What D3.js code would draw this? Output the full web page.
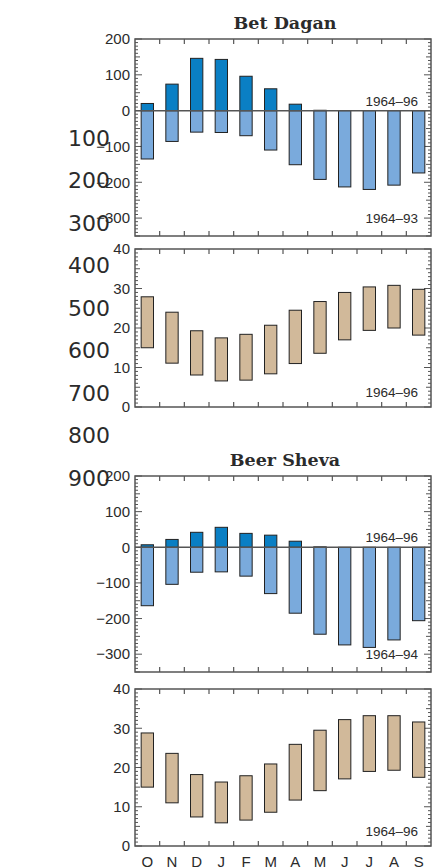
<!DOCTYPE html>
<html>
<head>
<meta charset="utf-8">
<script src="https://cdn.jsdelivr.net/npm/d3@7"></script>
<style>
  body { margin: 0; background: #fff; }
  svg { display: block; }
  text { fill: #2b2b2b; }
</style>
</head>
<body>
<svg id="chart"></svg>
<script>
var width = 432
var height = 867

var months = ["O","N","D","J","F","M","A","M","J","J","A","S"]

// precipitation (mm, up) and evaporation (mm, down)
var betDaganRain = [20, 74, 146, 143, 96, 61, 18, 1, 0, 0, 0, 0]
var betDaganEvap = [-135, -86, -60, -61, -70, -110, -151, -192, -213, -220, -208, -174]
var beerShevaRain = [7, 22, 42, 56, 39, 34, 17, 1, 0, 0, 0, 0]
var beerShevaEvap = [-164, -104, -70, -69, -81, -130, -185, -244, -274, -281, -260, -206]

// temperature ranges (deg C): low / high
var betDaganTmin = [15.0, 11.1, 8.1, 6.6, 6.8, 8.4, 11.0, 13.6, 17.0, 19.4, 20.0, 18.2]
var betDaganTmax = [27.9, 24.0, 19.3, 17.5, 18.4, 20.7, 24.5, 26.7, 29.0, 30.4, 30.8, 29.8]
var beerShevaTmin = [15.0, 11.0, 7.4, 5.9, 6.6, 8.6, 11.7, 14.1, 17.1, 19.0, 19.3, 17.5]
var beerShevaTmax = [28.8, 23.6, 18.2, 16.3, 17.9, 20.9, 25.9, 29.5, 32.2, 33.2, 33.2, 31.6]

var stations = ["Bet Dagan", "Beer Sheva"]
var precipTicks = [200, 100, 0, -100, -200, -300]
var tempTicks = [40, 30, 20, 10, 0]
var periodLabels = [["1964–96", "1964–93", "1964–96"], ["1964–96", "1964–94", "1964–96"]]
var strayTicks = [100, 200, 300, 400, 500, 600, 700, 800, 900]

var svg = d3.select("#chart").attr("width", width).attr("height", height)

var left = 135, right = 431
var x = d3.scaleBand().domain(d3.range(12)).range([left, right]).paddingInner(0.5).paddingOuter(0.25)
var bandStep = (right - left) / 12

// panel boxes
var panels = [
  {kind: "p", top: 39, bottom: 236, st: 0},
  {kind: "t", top: 249, bottom: 407, st: 0},
  {kind: "p", top: 476, bottom: 672, st: 1},
  {kind: "t", top: 689, bottom: 846, st: 1}
]

function drawFrame(p, y, minorStep, majorStep, lo, hi) {
  var g = svg.append("g")
  // minor / major ticks on both sides, inward
  var vals = d3.range(lo, hi + 0.001, minorStep)
  vals.forEach(function(v) {
    var major = Math.abs(v % majorStep) < 1e-6
    var half = Math.abs(v % (majorStep / 2)) < 1e-6
    var len = major ? 7 : (half ? 5 : 3)
    g.append("line").attr("x1", left).attr("x2", left + len)
      .attr("y1", y(v)).attr("y2", y(v)).attr("stroke", "#555").attr("stroke-width", 1)
    g.append("line").attr("x1", right).attr("x2", right - len)
      .attr("y1", y(v)).attr("y2", y(v)).attr("stroke", "#555").attr("stroke-width", 1)
  })
  // month boundary ticks top and bottom
  d3.range(1, 12).forEach(function(i) {
    var xx = left + i * bandStep
    g.append("line").attr("x1", xx).attr("x2", xx).attr("y1", p.top).attr("y2", p.top + 5)
      .attr("stroke", "#555").attr("stroke-width", 1.2)
    g.append("line").attr("x1", xx).attr("x2", xx).attr("y1", p.bottom).attr("y2", p.bottom - 5)
      .attr("stroke", "#555").attr("stroke-width", 1.2)
  })
  g.append("rect").attr("x", left).attr("y", p.top).attr("width", right - left)
    .attr("height", p.bottom - p.top).attr("fill", "none").attr("stroke", "#555").attr("stroke-width", 1.5)
}

function tickLabels(y, vals) {
  svg.append("g").selectAll("text").data(vals).enter().append("text")
    .attr("x", 130).attr("y", function(d) { return y(d) })
    .attr("dy", "0.35em").attr("text-anchor", "end")
    .attr("font-family", "Liberation Sans, Arial, sans-serif").attr("font-size", 15)
    .text(function(d) { return d < 0 ? "\u2212" + Math.abs(d) : d })
}

function note(txt, yy) {
  svg.append("text").attr("x", 418).attr("y", yy).attr("text-anchor", "end")
    .attr("font-family", "Liberation Sans, Arial, sans-serif").attr("font-size", 13.5)
    .text(txt)
}

panels.forEach(function(p) {
  var labels = periodLabels[p.st]
  if (p.kind === "p") {
    var rain = p.st === 0 ? betDaganRain : beerShevaRain
    var evap = p.st === 0 ? betDaganEvap : beerShevaEvap
    var y = d3.scaleLinear().domain([-350, 200]).range([p.bottom, p.top])
    drawFrame(p, y, 10, 100, -350, 200)
    svg.append("g").selectAll("rect").data(evap).enter().append("rect")
      .attr("x", function(d, i) { return x(i) }).attr("width", x.bandwidth())
      .attr("y", y(0)).attr("height", function(d) { return y(d) - y(0) })
      .attr("fill", "#7aaadc").attr("stroke", "#222").attr("stroke-width", 1)
    svg.append("g").selectAll("rect").data(rain).enter().append("rect")
      .attr("x", function(d, i) { return x(i) }).attr("width", x.bandwidth())
      .attr("y", function(d) { return y(d) }).attr("height", function(d) { return y(0) - y(d) })
      .attr("fill", "#0a7fc4").attr("stroke", "#222").attr("stroke-width", 1)
    svg.append("line").attr("x1", left).attr("x2", right).attr("y1", y(0)).attr("y2", y(0))
      .attr("stroke", "#555").attr("stroke-width", 1.5)
    tickLabels(y, precipTicks)
    note(labels[0], y(0) - 5)
    note(labels[1], y(-300) + 4.5)
    svg.append("text").attr("x", (left + right) / 2 + 2).attr("y", p.top - 10)
      .attr("text-anchor", "middle").attr("font-family", "DejaVu Serif, serif")
      .attr("font-weight", "bold").attr("font-size", 17.5).text(stations[p.st])
  } else {
    var tmin = p.st === 0 ? betDaganTmin : beerShevaTmin
    var tmax = p.st === 0 ? betDaganTmax : beerShevaTmax
    var yt = d3.scaleLinear().domain([0, 40]).range([p.bottom, p.top])
    drawFrame(p, yt, 1, 10, 0, 40)
    svg.append("g").selectAll("rect").data(tmax).enter().append("rect")
      .attr("x", function(d, i) { return x(i) }).attr("width", x.bandwidth())
      .attr("y", function(d) { return yt(d) })
      .attr("height", function(d, i) { return yt(tmin[i]) - yt(d) })
      .attr("fill", "#d1b99a").attr("stroke", "#222").attr("stroke-width", 1)
    tickLabels(yt, tempTicks)
    note(labels[2], p.bottom - 10.5)
  }
})

// month labels along the bottom
svg.append("g").selectAll("text").data(months).enter().append("text")
  .attr("x", function(d, i) { return x(i) + x.bandwidth() / 2 })
  .attr("y", 867).attr("text-anchor", "middle")
  .attr("font-family", "Liberation Sans, Arial, sans-serif").attr("font-size", 15)
  .text(function(d) { return d })

// large stray labels on the left edge
var stray = d3.scaleLinear().domain([0, 1000]).range([95.5, 520.5])
var strayAxis = d3.axisLeft(stray).tickValues(strayTicks).tickSize(0).tickPadding(9)
var sg = svg.append("g").attr("transform", "translate(119,0)").call(strayAxis)
sg.select(".domain").remove()
sg.selectAll("text").attr("font-family", "DejaVu Sans, sans-serif").attr("font-size", 22).attr("fill", "#2b2b2b")
</script>
</body>
</html>
